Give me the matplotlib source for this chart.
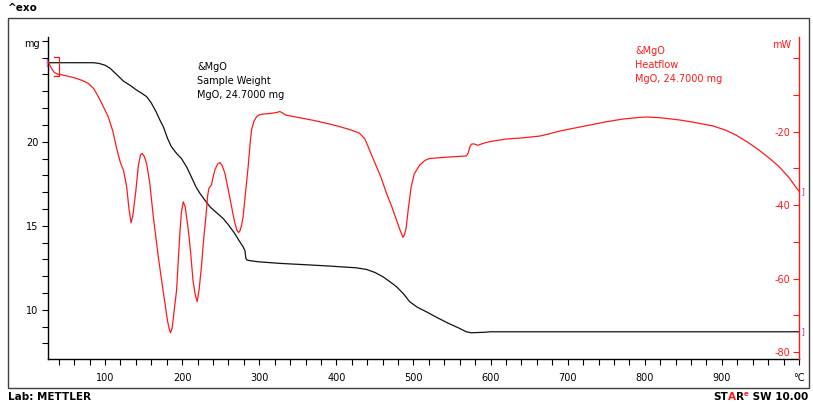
import matplotlib
matplotlib.use("Agg")
import matplotlib.pyplot as plt
from matplotlib.patches import Rectangle
from matplotlib.ticker import MultipleLocator, FixedLocator

# sample weight (TGA) trace, mg
temp_tga = [26.5, 40, 85, 92, 100, 106.5, 115, 124, 132, 140, 147, 154, 160, 166,
            171, 175.5, 181, 186, 192.8, 199, 205.8, 212, 218, 223, 229, 236, 244,
            253, 260, 268, 274, 279, 281.5, 282.6, 284, 288, 300, 326.7, 360, 391.5,
            404, 425, 439, 450, 460.5, 470, 478, 487, 495, 505, 516.7, 530, 545,
            558, 568.5, 575, 591.8, 600, 1000]
weight = [24.7, 24.7, 24.7, 24.66, 24.55, 24.37, 24.0, 23.6, 23.37, 23.1, 22.9, 22.68,
          22.3, 21.8, 21.3, 20.9, 20.2, 19.7, 19.3, 19.0, 18.5, 17.9, 17.3, 16.93,
          16.55, 16.13, 15.8, 15.44, 15.05, 14.55, 14.1, 13.75, 13.5, 13.06, 12.96,
          12.92, 12.85, 12.76, 12.68, 12.6, 12.56, 12.5, 12.4, 12.22, 11.96, 11.65,
          11.37, 10.95, 10.48, 10.15, 9.88, 9.55, 9.2, 8.93, 8.69, 8.63, 8.66, 8.69, 8.69]

# heat flow (DSC) trace, mW
temp_dsc = [26.5, 30, 34, 38, 46, 60, 70, 78, 85, 90, 96, 104, 110, 115, 120, 124, 128,
            131, 133.7, 136, 138, 140, 143, 146, 148, 151, 154, 158, 162.6, 166, 169,
            173, 177.7, 181, 183.5, 185, 187, 190, 192.8, 195, 197, 199, 201.4, 204,
            208, 211, 214, 217, 219.5, 222, 225, 228, 230.8, 233, 234.7, 238, 240,
            242.5, 246, 249, 252, 255.4, 259, 264, 268, 271, 273, 275, 277, 279, 282,
            285.6, 288, 290, 293, 296.5, 300, 305, 315, 322, 326.7, 330, 335, 350,
            370, 391, 404, 420, 430, 437, 443, 450, 458, 465, 472, 478, 482, 486.4,
            488.5, 490.7, 493, 497, 501, 508, 515, 521, 540, 568.5, 571, 573, 575,
            578, 583.5, 590, 599, 620, 640, 663.5, 676, 690, 706.6, 730, 750, 770,
            793, 804, 820, 845, 865, 888, 905, 918, 933, 948, 962, 974, 987, 998, 1000]
heatflow = [-1.0, -2.6, -3.8, -4.3, -4.6, -5.3, -6.0, -6.8, -8.2, -10.0, -12.4, -15.9,
            -19.8, -24.5, -28.5, -30.6, -35, -41, -44.8, -43, -39.5, -36, -29.5, -26.3,
            -25.9, -26.8, -28.8, -34, -43.2, -49, -54, -60, -66.8, -71.5, -74, -74.8,
            -73.5, -68, -63.1, -55, -47.7, -42, -39.1, -40.5, -46.8, -53, -60.4, -64.5,
            -66.3, -63, -56.8, -49, -43.2, -37.5, -35.4, -34.5, -32.5, -30.4, -28.8,
            -28.4, -29.3, -31.3, -35, -40.4, -44.6, -46.8, -47.5, -47, -45.5, -43.2,
            -37, -29.5, -23.5, -19.5, -17.2, -15.9, -15.4, -15.2, -15, -14.8, -14.5,
            -14.9, -15.5, -16.1, -16.9, -17.9, -18.6, -19.6, -20.4, -22, -25, -28.5,
            -32.5, -36.8, -40.5, -44.1, -46.5, -48.8, -48, -45.9, -41.5, -35, -31.5,
            -29.1, -27.8, -27.3, -27.0, -26.6, -25.8, -24.2, -23.4, -23.3, -23.7, -23.2,
            -22.7, -22.0, -21.7, -21.2, -20.6, -19.8, -19.1, -18.1, -17.3, -16.6, -16.1,
            -16.0, -16.2, -16.8, -17.5, -18.4, -19.6, -20.9, -22.8, -25.0, -27.3, -29.5,
            -32.5, -35.7, -36.2]

temp_ticks = [100, 200, 300, 400, 500, 600, 700, 800, 900, 1000]
temp_labels = ["100", "200", "300", "400", "500", "600", "700", "800", "900", "°C"]
weight_ticks = [10, 15, 20]
hf_ticks = [-80, -60, -40, -20]

RED = "#ff1a1a"
FS = 7

plt.rcParams["font.family"] = ["DejaVu Sans"]
plt.rcParams["axes.unicode_minus"] = False

W, H = 813, 403
fig = plt.figure(figsize=(W / 100, H / 100), dpi=100)


def fx(px):
    return px / W


def fy(py):
    return 1 - py / H


ax = fig.add_axes([fx(48), fy(359), fx(799) - fx(48), fy(37) - fy(359)])
ax2 = ax.twinx()

ax.plot(temp_tga, weight, color="#111111", lw=0.9)
ax2.plot(temp_dsc, heatflow, color=RED, lw=0.9)

ax.set_xlim(26, 1000)
ax.set_ylim(7.07, 26.23)
ax2.set_ylim(-81.93, 5.8)

for a in (ax, ax2):
    a.spines["top"].set_visible(False)
    a.patch.set_visible(False)
ax.spines["right"].set_visible(False)
ax2.spines["left"].set_visible(False)
ax2.spines["bottom"].set_visible(False)
ax2.spines["right"].set_color(RED)
for s in ("left", "bottom"):
    ax.spines[s].set_linewidth(1.0)
ax2.spines["right"].set_linewidth(1.0)

ax.xaxis.set_major_locator(FixedLocator(temp_ticks))
ax.set_xticklabels(temp_labels)
ax.xaxis.set_minor_locator(MultipleLocator(20))
ax.yaxis.set_major_locator(FixedLocator(weight_ticks))
ax.yaxis.set_minor_locator(MultipleLocator(1))
ax.tick_params(axis="both", which="both", direction="out", length=4, width=0.8,
               labelsize=FS, colors="black")
ax.tick_params(axis="x", pad=6)
ax.tick_params(axis="y", pad=3)

ax2.yaxis.set_major_locator(FixedLocator(hf_ticks))
ax2.yaxis.set_minor_locator(MultipleLocator(10))
ax2.tick_params(axis="y", which="both", direction="in", length=4, width=0.8,
                labelsize=FS, colors=RED, pad=-6)
plt.setp(ax2.get_yticklabels(), ha="right")

# unit labels at the top of each axis
fig.text(fx(40), fy(44), "mg", fontsize=FS, ha="right", va="center")
fig.text(fx(791), fy(45), "mW", fontsize=FS, ha="right", va="center", color=RED)

# curve captions
fig.text(fx(197), fy(81), "&MgO\nSample Weight\nMgO, 24.7000 mg", fontsize=FS,
         ha="left", va="center", linespacing=1.5)
fig.text(fx(635), fy(64.5), "&MgO\nHeatflow\nMgO, 24.7000 mg", fontsize=FS,
         ha="left", va="center", linespacing=1.5, color=RED)

# curve limit markers
purple = "#9933cc"
ax.text(temp_tga[0], weight[0], "[", color=purple, fontsize=6, ha="right",
        va="center", clip_on=False)
ax.text(temp_tga[-1], weight[-1], " ]", color=purple, fontsize=6, ha="left",
        va="center", clip_on=False)
ax2.text(temp_dsc[-1], heatflow[-1], " ]", color=purple, fontsize=6, ha="left",
         va="center", clip_on=False)
ax2.plot([temp_dsc[2], temp_dsc[3] + 2, temp_dsc[3] + 2, temp_dsc[2]],
         [0.3, 0.3, -4.7, -4.7], color=RED, lw=0.9, clip_on=False)

# frame and header/footer
fig.add_artist(Rectangle((fx(8), fy(388)), fx(809) - fx(8), fy(18) - fy(388),
                         transform=fig.transFigure, fill=False,
                         edgecolor="#404040", lw=1.0))
fig.text(fx(8), fy(8), "^exo", fontsize=7.5, fontweight="bold", ha="left", va="center")
fig.text(fx(8), fy(397), "Lab: METTLER", fontsize=7.5, fontweight="bold",
         ha="left", va="center")

# "STAR° SW 10.00" assembled right to left
renderer = fig.canvas.get_renderer()
pieces = [("ST", "black", 7.5, 0), ("A", RED, 7.5, 0), ("R", "black", 7.5, 0),
          ("e", RED, 5, 3), (" SW 10.00", "black", 7.5, 0)]
xr = fx(808)
for txt, col, size, dy in reversed(pieces):
    t = fig.text(xr, fy(397 - dy), txt, fontsize=size, fontweight="bold",
                 color=col, ha="right", va="center")
    bb = t.get_window_extent(renderer)
    xr -= bb.width / W

fig.savefig("out.png", dpi=100)
